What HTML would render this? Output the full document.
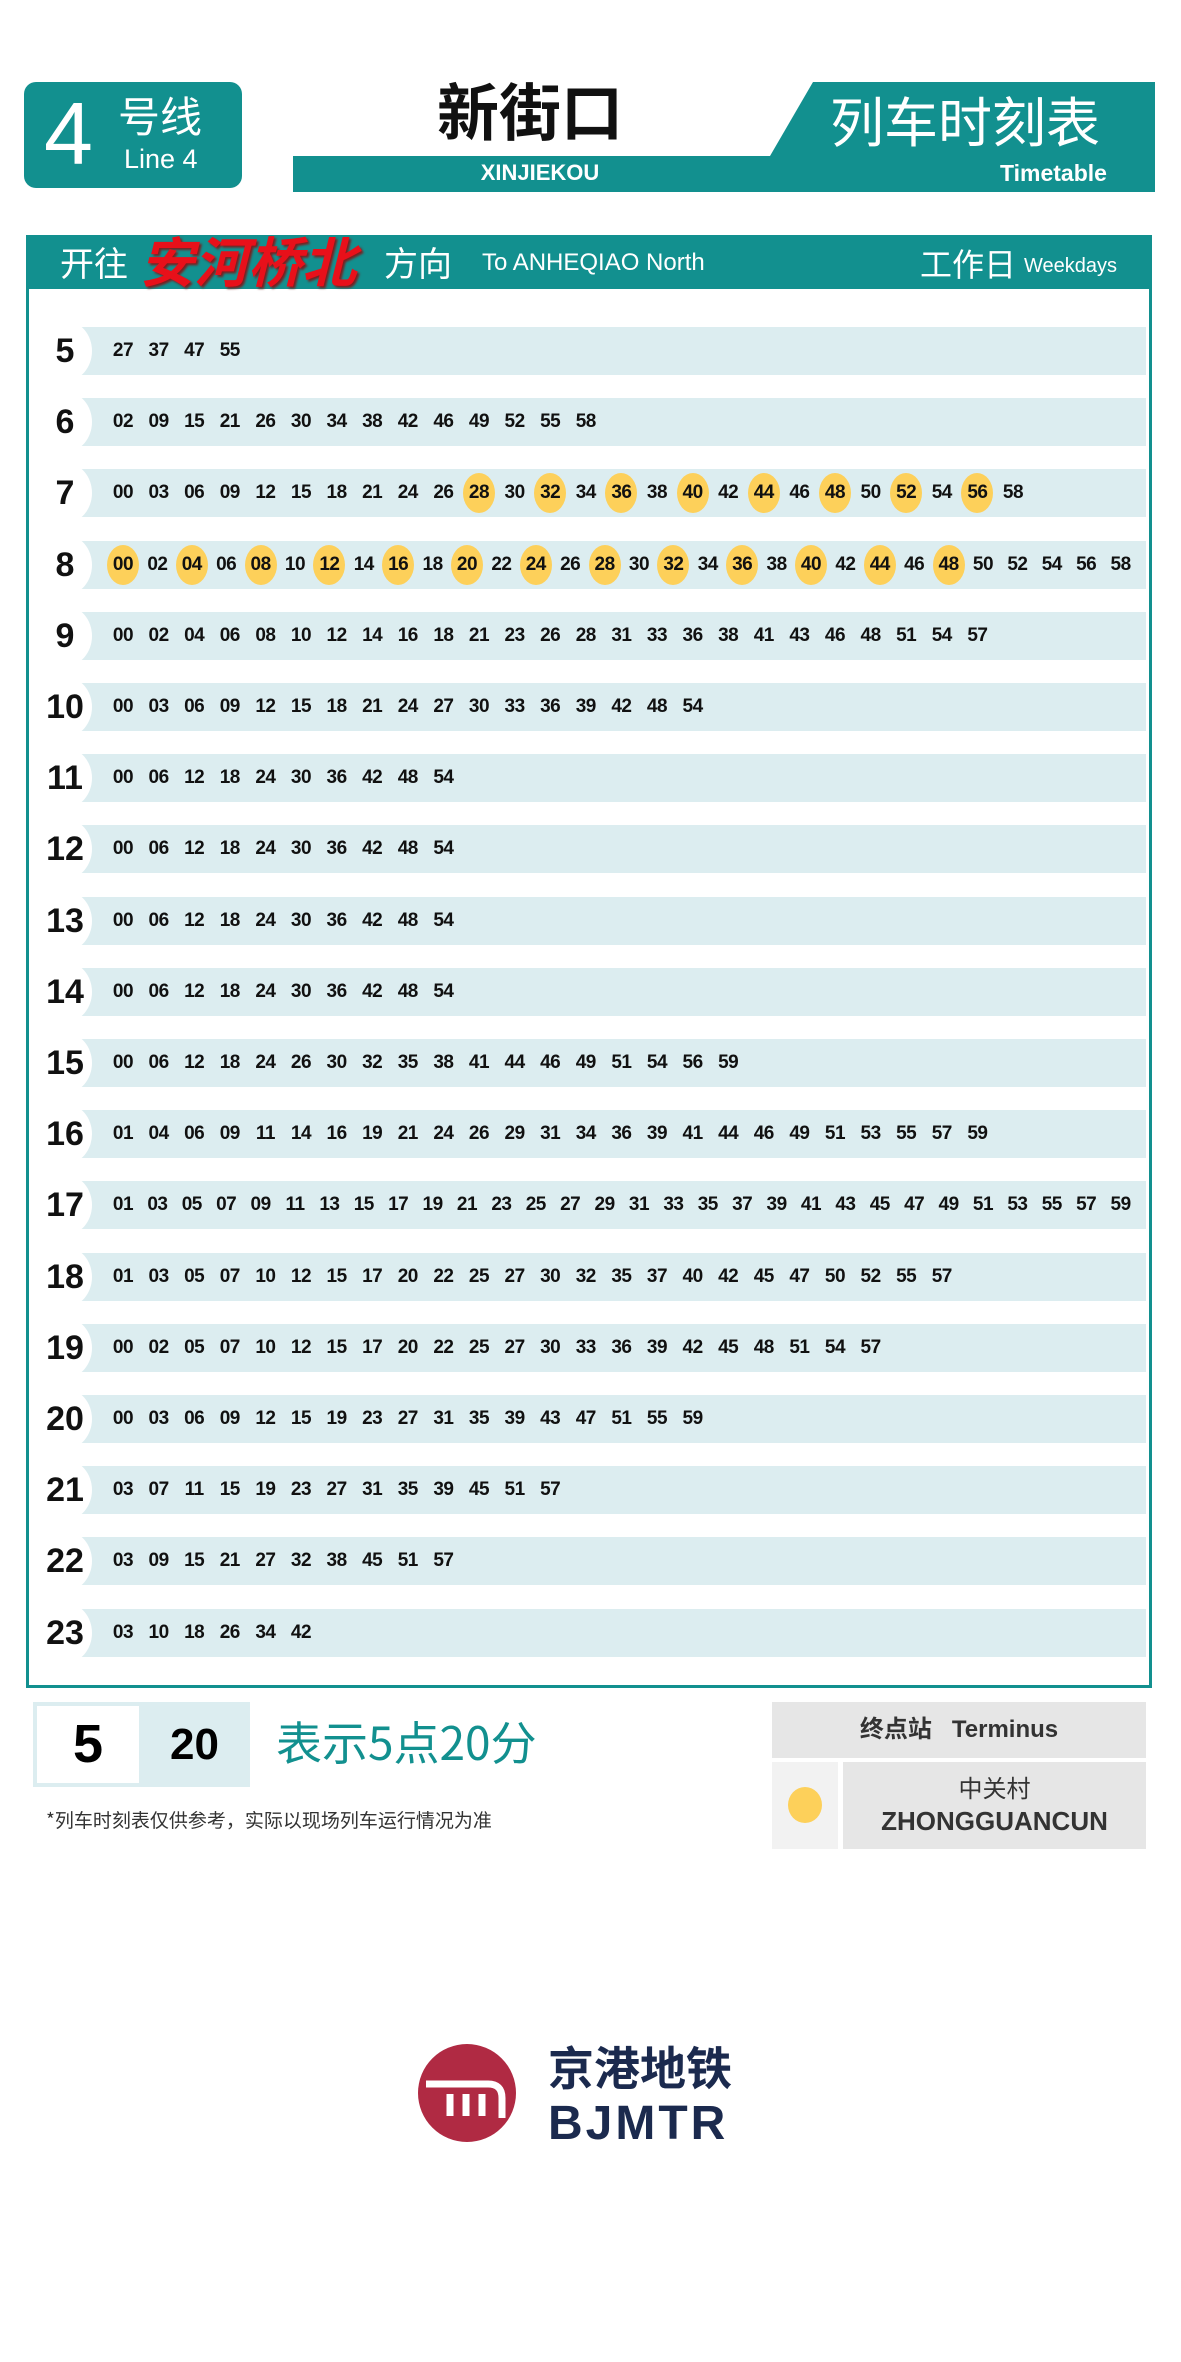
<!DOCTYPE html>
<html><head><meta charset="utf-8">
<style>
*{margin:0;padding:0;box-sizing:border-box}
body{width:1181px;height:2362px;background:#fff;position:relative;overflow:hidden;font-family:"Liberation Sans","Noto Sans CJK SC",sans-serif}
.abs{position:absolute}
.teal{background:#12908f}
.min{position:absolute;font-weight:bold;font-size:19px;color:#111;width:36px;text-align:center;line-height:48px;letter-spacing:-0.5px}
.hl{position:absolute;width:32px;height:40px;border-radius:50%;background:#fdd05a}
.hour{position:absolute;font-weight:bold;font-size:34px;color:#111;width:50px;text-align:center}
</style></head><body>

<div class="abs teal" style="left:24px;top:82px;width:218px;height:106px;border-radius:12px">
  <div class="abs" style="left:20px;top:2px;font-size:88px;color:#fff;line-height:100px">4</div>
  <div class="abs" style="left:94px;top:8px;font-size:42px;color:#fff;font-family:'Noto Sans CJK SC',sans-serif;line-height:50px">号线</div>
  <div class="abs" style="left:100px;top:62px;font-size:27px;color:#fff">Line 4</div>
</div>

<div class="abs" style="left:380px;top:68px;width:300px;text-align:center;font-size:62px;font-weight:bold;font-family:'Noto Sans CJK SC',sans-serif;line-height:80px;color:#111">新街口</div>
<svg class="abs" style="left:0;top:0" width="1181" height="200">
  <rect x="293" y="156" width="862" height="36" fill="#12908f"/>
  <polygon points="813,82 1155,82 1155,192 770,192 770,156" fill="#12908f"/>
</svg>
<div class="abs" style="left:440px;top:160px;width:200px;text-align:center;font-size:22px;font-weight:bold;color:#fff">XINJIEKOU</div>
<div class="abs" style="left:830px;top:84px;font-size:54px;color:#fff;font-family:'Noto Sans CJK SC',sans-serif;line-height:70px">列车时刻表</div>
<div class="abs" style="left:1000px;top:160px;font-size:23px;font-weight:bold;color:#fff">Timetable</div>

<div class="abs" style="left:26px;top:235px;width:1126px;height:1453px;border:3px solid #12908f"></div>
<div class="abs teal" style="left:26px;top:235px;width:1126px;height:54px">
  <span class="abs" style="left:34px;top:4px;font-size:34px;color:#fff;font-family:'Noto Sans CJK SC',sans-serif;line-height:46px">开往</span>
  <span class="abs" style="left:114px;top:-8px;font-size:54px;color:#e8101a;font-weight:bold;font-style:italic;font-family:'Noto Sans CJK SC',sans-serif;line-height:64px;text-shadow:2px 2px 2px #7a2020;white-space:nowrap">安河桥北</span>
  <span class="abs" style="left:358px;top:4px;font-size:34px;color:#fff;font-family:'Noto Sans CJK SC',sans-serif;line-height:46px">方向</span>
  <span class="abs" style="left:456px;top:14px;font-size:24px;color:#fff">To ANHEQIAO North</span>
  <span class="abs" style="left:894px;top:6px;font-size:32px;color:#fff;font-family:'Noto Sans CJK SC',sans-serif;line-height:44px">工作日</span>
  <span class="abs" style="left:998px;top:20px;font-size:20px;color:#fff">Weekdays</span>
</div>

<div id="rows"></div>

<div class="abs" style="left:33px;top:1702px;width:217px;height:85px;background:#dcedf0">
  <div class="abs" style="left:4px;top:4px;width:102px;height:77px;background:#fff;font-size:54px;font-weight:bold;text-align:center;line-height:77px">5</div>
  <div class="abs" style="left:106px;top:0;width:111px;height:85px;font-size:44px;font-weight:bold;text-align:center;line-height:85px">20</div>
</div>
<div class="abs" style="left:276px;top:1706px;font-size:46px;color:#12908f;font-family:'Noto Sans CJK SC',sans-serif;line-height:70px">表示5点20分</div>
<div class="abs" style="left:46px;top:1806px;font-size:19px;color:#333;font-family:'Noto Sans CJK SC',sans-serif">*列车时刻表仅供参考，实际以现场列车运行情况为准</div>

<div class="abs" style="left:772px;top:1702px;width:374px;height:56px;background:#e6e6e6;text-align:center;line-height:56px;font-size:24px;font-weight:bold;color:#333;font-family:'Liberation Sans','Noto Sans CJK SC',sans-serif">终点站&nbsp;&nbsp;&nbsp;Terminus</div>
<div class="abs" style="left:772px;top:1762px;width:66px;height:87px;background:#f2f2f2">
  <div class="abs" style="left:16px;top:25px;width:34px;height:36px;border-radius:50%;background:#fdd05a"></div>
</div>
<div class="abs" style="left:843px;top:1762px;width:303px;height:87px;background:#e6e6e6;text-align:center;color:#333">
  <div style="font-size:24px;font-family:'Noto Sans CJK SC',sans-serif;margin-top:8px;line-height:34px">中关村</div>
  <div style="font-size:26px;font-weight:bold;line-height:34px">ZHONGGUANCUN</div>
</div>

<div class="abs" style="left:418px;top:2044px;width:98px;height:98px;border-radius:50%;background:#b02a43">
  <svg width="98" height="98"><path d="M8 40 H70 Q84 40 84 54 V74" stroke="#fff" stroke-width="7" fill="none"/><path d="M32 50 V72 M48 50 V72 M64 50 V72" stroke="#fff" stroke-width="7"/></svg>
</div>
<div class="abs" style="left:548px;top:2036px;font-size:46px;font-weight:bold;color:#1b2a4e;font-family:'Noto Sans CJK SC',sans-serif;line-height:60px">京港地铁</div>
<div class="abs" style="left:548px;top:2096px;font-size:48px;font-weight:bold;color:#1b2a4e;letter-spacing:3px">BJMTR</div>

<script>
const hours=[5,6,7,8,9,10,11,12,13,14,15,16,17,18,19,20,21,22,23];
const minutes=[
"27 37 47 55",
"02 09 15 21 26 30 34 38 42 46 49 52 55 58",
"00 03 06 09 12 15 18 21 24 26 28 30 32 34 36 38 40 42 44 46 48 50 52 54 56 58",
"00 02 04 06 08 10 12 14 16 18 20 22 24 26 28 30 32 34 36 38 40 42 44 46 48 50 52 54 56 58",
"00 02 04 06 08 10 12 14 16 18 21 23 26 28 31 33 36 38 41 43 46 48 51 54 57",
"00 03 06 09 12 15 18 21 24 27 30 33 36 39 42 48 54",
"00 06 12 18 24 30 36 42 48 54",
"00 06 12 18 24 30 36 42 48 54",
"00 06 12 18 24 30 36 42 48 54",
"00 06 12 18 24 30 36 42 48 54",
"00 06 12 18 24 26 30 32 35 38 41 44 46 49 51 54 56 59",
"01 04 06 09 11 14 16 19 21 24 26 29 31 34 36 39 41 44 46 49 51 53 55 57 59",
"01 03 05 07 09 11 13 15 17 19 21 23 25 27 29 31 33 35 37 39 41 43 45 47 49 51 53 55 57 59",
"01 03 05 07 10 12 15 17 20 22 25 27 30 32 35 37 40 42 45 47 50 52 55 57",
"00 02 05 07 10 12 15 17 20 22 25 27 30 33 36 39 42 45 48 51 54 57",
"00 03 06 09 12 15 19 23 27 31 35 39 43 47 51 55 59",
"03 07 11 15 19 23 27 31 35 39 45 51 57",
"03 09 15 21 27 32 38 45 51 57",
"03 10 18 26 34 42"
];
const highlighted={7:["28","32","36","40","44","48","52","56"],8:["00","04","08","12","16","20","24","28","32","36","40","44","48"]};
const rowY=h=>351+(h-5)*71.2;
const root=document.getElementById('rows');
hours.forEach((h,ri)=>{
  const cy=rowY(h);
  const band=document.createElement('div');
  band.className='abs';
  
  
  band.style.cssText=`left:70px;top:${cy-24}px;width:1076px;height:48px;background:#dcedf0`;
  root.appendChild(band);
  const notch=document.createElement('div');
  notch.className='abs';
  
  
  notch.style.cssText=`left:40px;top:${cy-30}px;width:52px;height:60px;border-radius:50%;background:#fff`;
  root.appendChild(notch);
  const hr=document.createElement('div');
  hr.className='hour';
  
  
  hr.style.left='40px';hr.style.top=(cy-21)+'px';hr.style.lineHeight='42px';
  hr.textContent=h;
  root.appendChild(hr);
  const ms=minutes[ri].split(' ');
  const step=ms.length>=28?34.4:35.6;
  ms.forEach((m,i)=>{
    const cx=123+i*step;
    if(highlighted[h]&&highlighted[h].includes(m)){
      const c=document.createElement('div');
      c.className='hl';
      
      
      c.style.left=(cx-16)+'px';c.style.top=(cy-20)+'px';
      root.appendChild(c);
    }
    const t=document.createElement('div');
    t.className='min';
    
    
    t.style.left=(cx-18)+'px';t.style.top=(cy-24)+'px';
    t.textContent=m;
    root.appendChild(t);
  });
});
</script>
</body></html>
